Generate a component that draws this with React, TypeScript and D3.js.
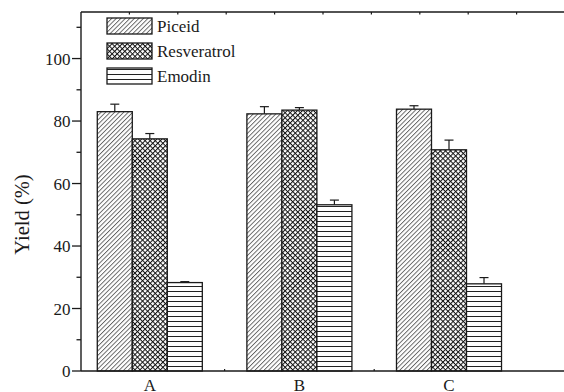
import React from "react";
import * as d3 from "d3";

const categories = ["A", "B", "C"];
const seriesNames = ["Piceid", "Resveratrol", "Emodin"];
const piceid = [83.0, 82.3, 83.8];
const resveratrol = [74.3, 83.5, 70.8];
const emodin = [28.3, 53.2, 27.9];
const piceidErr = [2.4, 2.3, 1.1];
const resveratrolErr = [1.7, 0.8, 3.1];
const emodinErr = [0.3, 1.5, 2.0];
const yMajorTicks = [0, 20, 40, 60, 80, 100];
const yMinorTicks = [10, 30, 50, 70, 90, 110];

const W = 564;
const H = 392;
const left = 81;
const top = 12;
const bottom = 371;
const right = 565;
const ink = "#1a1a1a";
const font = '"Liberation Serif"';
const tStyle = { fontFamily: font };

export default function App() {
  const y = d3.scaleLinear().domain([0, 114.9]).range([bottom, top]);
  const x = d3.scaleBand<string>().domain(categories).range([75, 523.8]).padding(0);
  const groupW = x.bandwidth() * 0.702;
  const xs = d3
    .scaleBand<string>()
    .domain(seriesNames)
    .range([(x.bandwidth() - groupW) / 2, (x.bandwidth() + groupW) / 2]);
  const xTop = d3.scaleLinear().domain([0, 10]).range([left, right]);
  const topTicks = d3.range(1, 10);

  const values = [piceid, resveratrol, emodin];
  const errs = [piceidErr, resveratrolErr, emodinErr];
  const patterns = ["pDiag", "pCross", "pHoriz"];

  const bars: any[] = [];
  seriesNames.forEach((s, si) => {
    categories.forEach((c, ci) => {
      const v = values[si][ci];
      const e = errs[si][ci];
      const bx = (x(c) as number) + (xs(s) as number);
      const bw = xs.bandwidth();
      const cx = bx + bw / 2;
      bars.push(
        <g key={s + c}>
          <rect
            x={bx}
            y={y(v)}
            width={bw}
            height={y(0) - y(v)}
            fill={`url(#${patterns[si]})`}
            stroke={ink}
            strokeWidth={1.3}
          />
          <line x1={cx} x2={cx} y1={y(v)} y2={y(v + e)} stroke={ink} strokeWidth={1.2} />
          <line x1={cx - 4.5} x2={cx + 4.5} y1={y(v + e)} y2={y(v + e)} stroke={ink} strokeWidth={1.2} />
        </g>
      );
    });
  });

  return (
    <svg
      width={W}
      height={H}
      style={{ position: "absolute", left: 0, top: 0, background: "#fff" }}
    >
      <defs>
        <pattern id="pDiag" patternUnits="userSpaceOnUse" width={3.2} height={10} patternTransform="rotate(45)">
          <rect width={3.2} height={10} fill="#fff" />
          <line x1={0.5} x2={0.5} y1={0} y2={10} stroke="#333" strokeWidth={0.8} />
        </pattern>
        <pattern id="pCross" patternUnits="userSpaceOnUse" width={3.6} height={3.6} patternTransform="rotate(45)">
          <rect width={3.6} height={3.6} fill="#fff" />
          <line x1={0.5} x2={0.5} y1={0} y2={3.6} stroke="#111" strokeWidth={1.0} />
          <line x1={0} x2={3.6} y1={0.5} y2={0.5} stroke="#111" strokeWidth={1.0} />
        </pattern>
        <pattern id="pHoriz" patternUnits="userSpaceOnUse" width={10} height={5} y={bottom}>
          <rect width={10} height={5} fill="#fff" />
          <line x1={0} x2={10} y1={0.5} y2={0.5} stroke="#222" strokeWidth={1.0} />
        </pattern>
      </defs>

      {bars}

      {/* frame */}
      <line x1={left} x2={left} y1={top} y2={bottom} stroke={ink} strokeWidth={1.4} />
      <line x1={left} x2={W} y1={top} y2={top} stroke={ink} strokeWidth={1.4} />
      <line x1={left} x2={W} y1={bottom} y2={bottom} stroke={ink} strokeWidth={1.4} />

      {/* top minor ticks */}
      {topTicks.map((t) => (
        <line key={"tt" + t} x1={xTop(t)} x2={xTop(t)} y1={top} y2={top + 2.5} stroke={ink} strokeWidth={1.2} />
      ))}
      {/* bottom ticks at group boundaries */}
      {categories.slice(1).map((c) => (
        <line key={"bt" + c} x1={x(c) as number} x2={x(c) as number} y1={bottom} y2={bottom - 2} stroke={ink} strokeWidth={1.2} />
      ))}

      {/* y ticks */}
      {yMajorTicks.map((t) => (
        <g key={"ym" + t}>
          <line x1={left - 9} x2={left} y1={y(t)} y2={y(t)} stroke={ink} strokeWidth={1.3} />
          <text x={70.5} y={y(t) + 6} textAnchor="end" fontSize={17} fill={ink} style={tStyle}>
            {t}
          </text>
        </g>
      ))}
      {yMinorTicks.map((t) => (
        <line key={"yn" + t} x1={left - 4.5} x2={left} y1={y(t)} y2={y(t)} stroke={ink} strokeWidth={1.3} />
      ))}

      {/* x labels */}
      {categories.map((c) => (
        <text
          key={"xl" + c}
          x={(x(c) as number) + x.bandwidth() / 2}
          y={390.5}
          textAnchor="middle"
          fontSize={17}
          fill={ink}
          style={tStyle}
        >
          {c}
        </text>
      ))}

      {/* y label */}
      <text
        transform={`translate(29,214.5) rotate(-90)`}
        textAnchor="middle"
        fontSize={20.5}
        fill={ink}
        style={tStyle}
      >
        Yield (%)
      </text>

      {/* legend */}
      {seriesNames.map((s, i) => (
        <g key={"lg" + s} transform={`translate(107,${18 + i * 25})`}>
          <rect width={45} height={16} fill={`url(#${patterns[i]})`} stroke={ink} strokeWidth={1.3} />
          <text x={50} y={14} fontSize={17} fill={ink} style={tStyle}>
            {s}
          </text>
        </g>
      ))}
    </svg>
  );
}
